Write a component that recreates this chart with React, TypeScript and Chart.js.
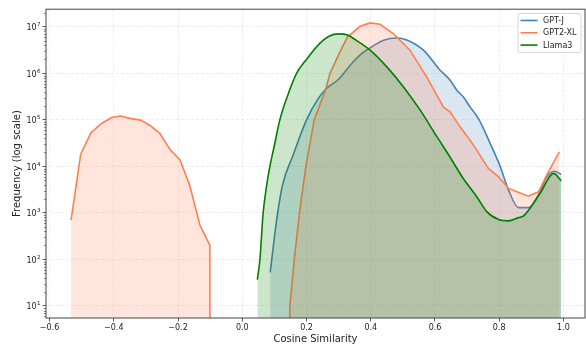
import React, { useEffect, useRef } from 'react';
import { Chart, registerables } from 'chart.js';

Chart.register(...registerables);

// ---------- data ----------
const seriesNames = ['GPT-J', 'GPT2-XL', 'Llama3'];
const seriesColors = ['#4682b4', '#ff7f50', '#008000'];
const seriesFills = ['rgba(70,130,180,0.2)', 'rgba(255,127,80,0.2)', 'rgba(0,128,0,0.2)'];
const seriesSmooth = [true, false, true];

const gptjX = [0.087, 0.107, 0.125, 0.159, 0.2, 0.237, 0.263, 0.299, 0.336, 0.367, 0.398, 0.44, 0.481, 0.512, 0.564, 0.616, 0.647, 0.668, 0.688, 0.709, 0.735, 0.772, 0.803, 0.829, 0.86, 0.891, 0.927, 0.948, 0.972, 0.993];
const gptjY = [53, 700, 3900, 18000, 100000, 290000, 480000, 740000, 1500000, 2500000, 3550000, 5130000, 5750000, 5250000, 3160000, 1170000, 716000, 437000, 313000, 191000, 108000, 31000, 10000, 3100, 1300, 1300, 2850, 6000, 7900, 6700];

const gpt2X = [-0.533, -0.503, -0.471, -0.438, -0.407, -0.379, -0.35, -0.317, -0.288, -0.256, -0.225, -0.194, -0.163, -0.132, -0.101, -0.1, 0.147, 0.148, 0.162, 0.178, 0.198, 0.224, 0.261, 0.273, 0.304, 0.328, 0.367, 0.398, 0.429, 0.47, 0.522, 0.574, 0.626, 0.647, 0.678, 0.709, 0.73, 0.766, 0.798, 0.829, 0.855, 0.891, 0.922, 0.953, 0.987];
const gpt2Y = [703, 18400, 53000, 84000, 113000, 121000, 108000, 99000, 77000, 51000, 23000, 14000, 3800, 550, 204, 0.01, 0.01, 10, 100, 1000, 10000, 100000, 480000, 1000000, 2900000, 6100000, 10300000, 12200000, 11400000, 7200000, 3160000, 843000, 191000, 149000, 71000, 36800, 22400, 9080, 6000, 3370, 2850, 2300, 2850, 7670, 20600];

const llamaX = [0.047, 0.055, 0.065, 0.075, 0.086, 0.1, 0.117, 0.14, 0.169, 0.2, 0.242, 0.27, 0.299, 0.33, 0.346, 0.398, 0.45, 0.502, 0.554, 0.606, 0.647, 0.688, 0.73, 0.761, 0.798, 0.829, 0.86, 0.875, 0.927, 0.969, 0.993];
const llamaY = [37, 100, 1000, 3550, 10000, 28200, 100000, 316000, 1000000, 2000000, 4470000, 6300000, 7080000, 6600000, 5620000, 3160000, 1380000, 513000, 162000, 43600, 15800, 5500, 2240, 1070, 724, 676, 794, 851, 2630, 7080, 4900];

const xTickValues = [-0.6, -0.4, -0.2, 0.0, 0.2, 0.4, 0.6, 0.8, 1.0];
const xMin = -0.611;
const xMax = 1.067;
const yMin = 5.52;
const yMax = 24000000;
const yExponents = [0, 1, 2, 3, 4, 5, 6, 7];

const xTitle = 'Cosine Similarity';
const yTitle = 'Frequency (log scale)';

const FONT = "'DejaVu Sans', sans-serif";

function isMajor(v: number) {
  const l = Math.log10(v);
  return Math.abs(l - Math.round(l)) < 1e-9;
}

const frameLegendPlugin = {
  id: 'frameLegend',
  afterDraw(chart: any) {
    const { ctx, chartArea } = chart;
    const { left, right, top, bottom } = chartArea;
    ctx.save();
    const ys = chart.scales.y;
    // minor ticks on y axis
    ctx.strokeStyle = '#333';
    ctx.lineWidth = 0.6;
    for (const t of ys.ticks) {
      if (isMajor(t.value)) continue;
      const py = Math.round(ys.getPixelForValue(t.value)) + 0.5;
      ctx.beginPath();
      ctx.moveTo(left - 2, py);
      ctx.lineTo(left, py);
      ctx.stroke();
    }
    // y tick labels: 10 with superscript exponent
    ctx.fillStyle = '#222';
    ctx.textAlign = 'right';
    ctx.textBaseline = 'alphabetic';
    for (const t of ys.ticks) {
      if (!isMajor(t.value)) continue;
      const py = ys.getPixelForValue(t.value);
      const e = String(Math.round(Math.log10(t.value)));
      ctx.font = `5.6px ${FONT}`;
      const ew = ctx.measureText(e).width;
      const rx = left - 5.5;
      ctx.fillText(e, rx, py - 0.7);
      ctx.font = `8px ${FONT}`;
      ctx.fillText('10', rx - ew - 0.3, py + 3.2);
    }
    // frame
    ctx.strokeStyle = '#444';
    ctx.lineWidth = 1;
    ctx.strokeRect(left, top, right - left, bottom - top);

    // legend
    const bx = 518, by = 13.5, bw = 63, bh = 39, r = 2;
    ctx.beginPath();
    ctx.moveTo(bx + r, by);
    ctx.lineTo(bx + bw - r, by);
    ctx.arcTo(bx + bw, by, bx + bw, by + r, r);
    ctx.lineTo(bx + bw, by + bh - r);
    ctx.arcTo(bx + bw, by + bh, bx + bw - r, by + bh, r);
    ctx.lineTo(bx + r, by + bh);
    ctx.arcTo(bx, by + bh, bx, by + bh - r, r);
    ctx.lineTo(bx, by + r);
    ctx.arcTo(bx, by, bx + r, by, r);
    ctx.closePath();
    ctx.fillStyle = 'rgba(255,255,255,0.85)';
    ctx.fill();
    ctx.strokeStyle = '#cccccc';
    ctx.lineWidth = 0.8;
    ctx.stroke();

    ctx.font = `8px ${FONT}`;
    ctx.textBaseline = 'middle';
    ctx.textAlign = 'left';
    seriesNames.forEach((name, i) => {
      const y = 20.5 + i * 12.3;
      ctx.strokeStyle = seriesColors[i];
      ctx.lineWidth = 1.6;
      ctx.beginPath();
      ctx.moveTo(520.5, y);
      ctx.lineTo(537.5, y);
      ctx.stroke();
      ctx.fillStyle = '#222';
      ctx.fillText(name, 543, y + 0.5);
    });
    ctx.restore();
  },
};

export default function App() {
  const canvasRef = useRef<HTMLCanvasElement | null>(null);

  useEffect(() => {
    document.body.style.margin = '0';
    const canvas = canvasRef.current;
    if (!canvas) return;

    const xsList = [gptjX, gpt2X, llamaX];
    const ysList = [gptjY, gpt2Y, llamaY];

    const datasets = seriesNames.map((name, i) => ({
      label: name,
      data: xsList[i].map((x, j) => ({ x, y: ysList[i][j] })),
      borderColor: seriesColors[i],
      backgroundColor: seriesFills[i],
      fill: 'start',
      borderWidth: 1.6,
      pointRadius: 0,
      tension: 0,
      cubicInterpolationMode: seriesSmooth[i] ? 'monotone' : 'default',
      order: 3 - i,
    }));

    const chart = new Chart(canvas, {
      type: 'line',
      data: { datasets },
      options: {
        animation: false,
        responsive: true,
        maintainAspectRatio: false,
        layout: { padding: { top: 9, right: 1, left: 0, bottom: 0 } },
        plugins: {
          legend: { display: false },
          tooltip: { enabled: false },
        },
        scales: {
          x: {
            type: 'linear',
            min: xMin,
            max: xMax,
            afterBuildTicks: (scale: any) => {
              scale.ticks = xTickValues.map((v) => ({ value: v }));
            },
            afterFit: (scale: any) => {
              scale.height = 27;
            },
            ticks: {
              autoSkip: false,
              maxRotation: 0,
              padding: 1.5,
              color: '#222',
              font: { family: FONT, size: 8 },
              callback: (v: any) => {
                const n = Number(v);
                const s = Math.abs(n).toFixed(1);
                return n < -1e-9 ? '\u2212' + s : s;
              },
            },
            grid: {
              color: 'rgba(0,0,0,0.12)',
              lineWidth: 0.6,
              tickLength: 3.5,
              tickColor: '#333',
              tickWidth: 0.8,
              tickBorderDash: [],
            },
            border: { display: false, dash: [3, 2] },
            title: {
              display: true,
              text: xTitle,
              color: '#222',
              font: { family: FONT, size: 10 },
              padding: { top: 0, bottom: 0 },
            },
          },
          y: {
            type: 'logarithmic',
            min: yMin,
            max: yMax,
            afterBuildTicks: (scale: any) => {
              const t: any[] = [];
              yExponents.forEach((e) => {
                for (let m = 1; m <= 9; m++) {
                  const v = m * Math.pow(10, e);
                  if (v >= yMin && v <= yMax) t.push({ value: v, major: m === 1 });
                }
              });
              scale.ticks = t;
            },
            afterFit: (scale: any) => {
              scale.width = 46;
            },
            ticks: {
              autoSkip: false,
              padding: 2,
              callback: () => '',
            },
            grid: {
              color: (ctx: any) => (ctx.tick && isMajor(ctx.tick.value) ? 'rgba(0,0,0,0.12)' : 'rgba(0,0,0,0)'),
              lineWidth: 0.6,
              tickLength: 3.5,
              tickColor: (ctx: any) => (ctx.tick && isMajor(ctx.tick.value) ? '#333' : 'rgba(0,0,0,0)'),
              tickWidth: 0.8,
              tickBorderDash: [],
            },
            border: { display: false, dash: [3, 2] },
            title: {
              display: true,
              text: yTitle,
              color: '#222',
              font: { family: FONT, size: 10 },
              padding: { top: 11, bottom: 0 },
            },
          },
        },
      } as any,
      plugins: [frameLegendPlugin],
    });

    return () => chart.destroy();
  }, []);

  return (
    <div style={{ position: 'absolute', left: 0, top: 0, width: 586, height: 345 }}>
      <canvas ref={canvasRef} />
    </div>
  );
}
